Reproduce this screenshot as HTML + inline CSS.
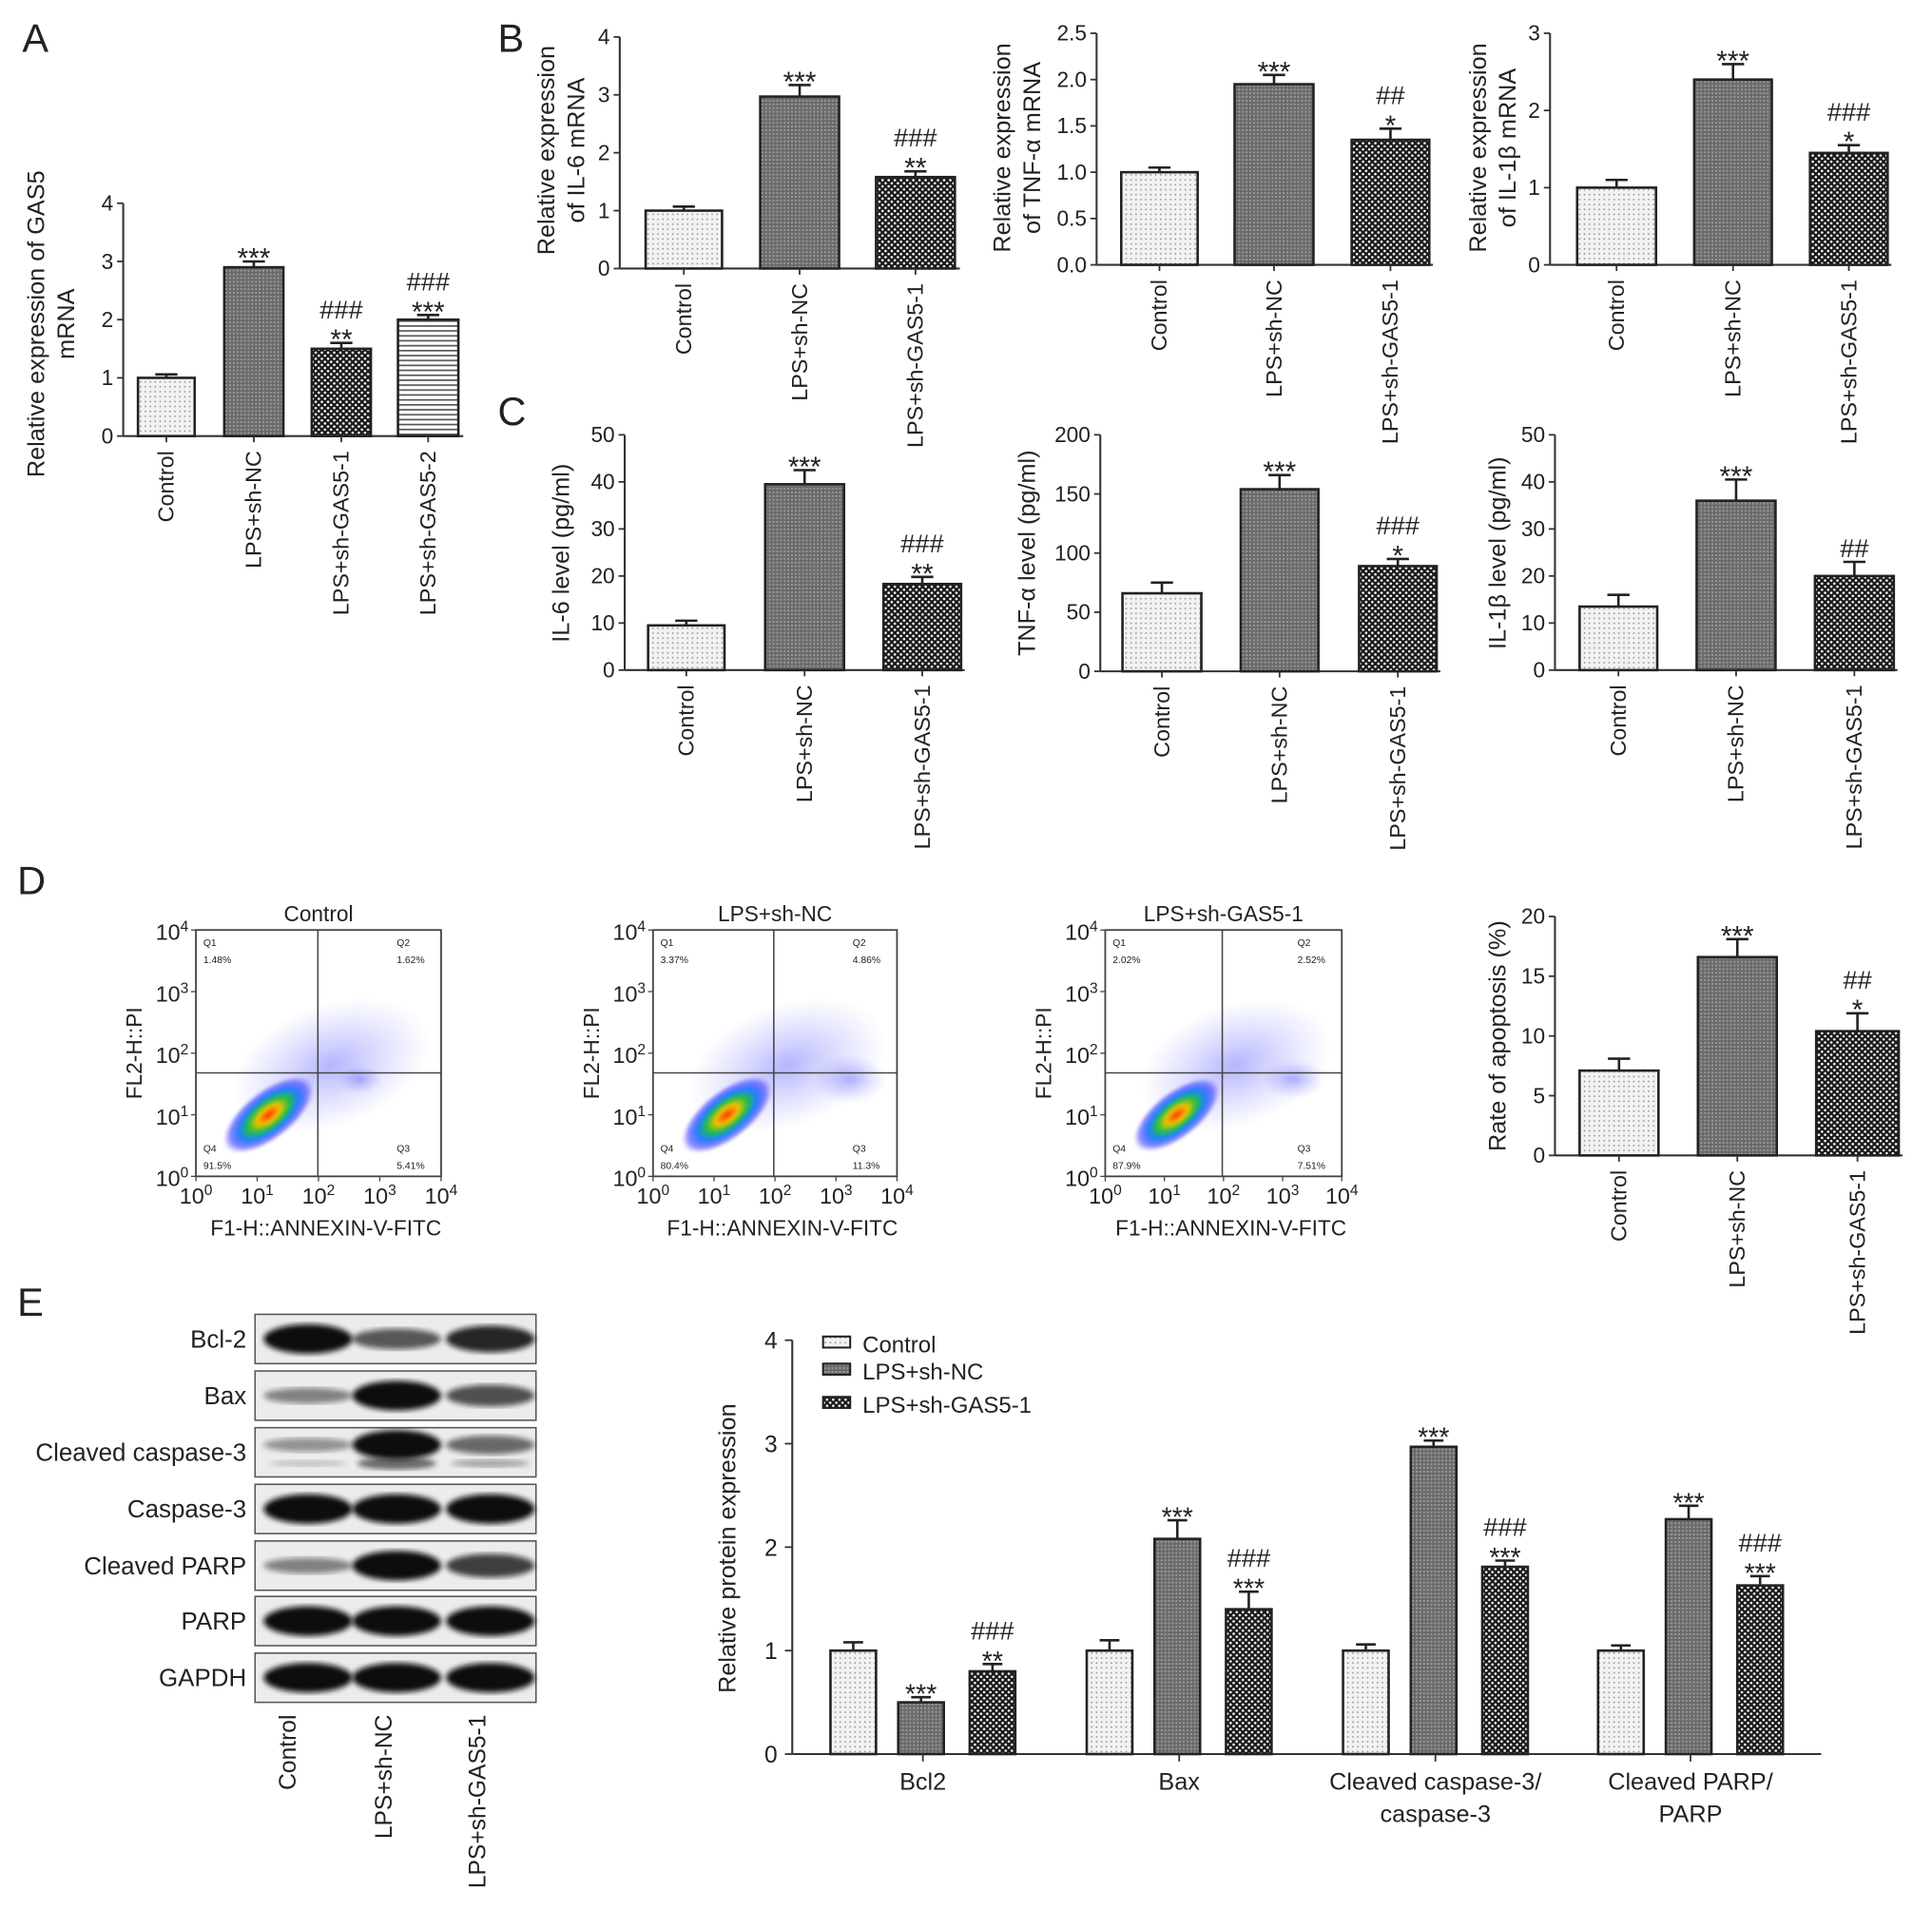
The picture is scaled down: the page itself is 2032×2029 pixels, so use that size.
<!DOCTYPE html>
<html><head><meta charset="utf-8">
<style>
html,body{margin:0;padding:0;background:#fff;}
svg{display:block;}
text{font-family:"Liberation Sans",sans-serif;fill:#222;}
</style></head>
<body>
<svg id="fig" xmlns="http://www.w3.org/2000/svg" width="2032" height="2029" viewBox="0 0 1568 1566" preserveAspectRatio="none">
<defs>
<pattern id="pDots" width="4" height="4" patternUnits="userSpaceOnUse"><rect width="4" height="4" fill="#f2f2f2"/><circle cx="2" cy="2" r="0.7" fill="#999"/></pattern>
<pattern id="pNC" width="3" height="3" patternUnits="userSpaceOnUse"><rect width="3" height="3" fill="#6a6a6a"/><rect x="0" y="0" width="1.5" height="1.5" fill="#9a9a9a"/></pattern>
<pattern id="pChk" width="5" height="5" patternUnits="userSpaceOnUse"><rect width="5" height="5" fill="#1a1a1a"/><circle cx="1.25" cy="1.25" r="1" fill="#fff"/><circle cx="3.75" cy="3.75" r="1" fill="#fff"/></pattern>
<pattern id="pH" width="4" height="4" patternUnits="userSpaceOnUse"><rect width="4" height="4" fill="#fff"/><rect y="0" width="4" height="1.3" fill="#555"/></pattern>
<radialGradient id="gFlow" cx="50%" cy="50%" r="50%">
<stop offset="0" stop-color="#ff3000"/><stop offset="0.25" stop-color="#f0c000"/><stop offset="0.45" stop-color="#20c040"/><stop offset="0.65" stop-color="#2080ff"/><stop offset="0.85" stop-color="#4040ff" stop-opacity="0.6"/><stop offset="1" stop-color="#6060ff" stop-opacity="0"/></radialGradient>
<radialGradient id="gHalo" cx="50%" cy="50%" r="50%"><stop offset="0" stop-color="#5a5aff" stop-opacity="0.45"/><stop offset="1" stop-color="#8080ff" stop-opacity="0"/></radialGradient>
<filter id="blur2"><feGaussianBlur stdDeviation="2.2"/></filter>
<filter id="blur1"><feGaussianBlur stdDeviation="1"/></filter>
</defs>
<g id="root"></g>
</svg>
<script>
// ---------- DATA ----------
const groups3 = ["Control","LPS+sh-NC","LPS+sh-GAS5-1"];
const groupsA = ["Control","LPS+sh-NC","LPS+sh-GAS5-1","LPS+sh-GAS5-2"];
const aVals = [1.0, 2.9, 1.5, 2.0];
const aErrs = [0.06, 0.1, 0.1, 0.08];
const aStars = ["","***","**","***"];
const aHash = ["","","###","###"];
const aTicks = [0,1,2,3,4];

const il6mVals = [1.0, 2.97, 1.58];
const il6mErrs = [0.07, 0.2, 0.1];
const il6mStars = ["","***","**"];
const il6mHash = ["","","###"];
const il6mTicks = [0,1,2,3,4];

const tnfmVals = [1.0, 1.95, 1.35];
const tnfmErrs = [0.05, 0.1, 0.12];
const tnfmStars = ["","***","*"];
const tnfmHash = ["","","##"];
const tnfmTicks = [0,0.5,1.0,1.5,2.0,2.5];
const tnfmTickLabels = ["0.0","0.5","1.0","1.5","2.0","2.5"];

const il1mVals = [1.0, 2.4, 1.45];
const il1mErrs = [0.1, 0.2, 0.1];
const il1mStars = ["","***","*"];
const il1mHash = ["","","###"];
const il1mTicks = [0,1,2,3];

const il6pVals = [9.5, 39.5, 18.3];
const il6pErrs = [1.0, 3.0, 1.5];
const il6pStars = ["","***","**"];
const il6pHash = ["","","###"];
const il6pTicks = [0,10,20,30,40,50];

const tnfpVals = [66, 154, 89];
const tnfpErrs = [9, 12, 6];
const tnfpStars = ["","***","*"];
const tnfpHash = ["","","###"];
const tnfpTicks = [0,50,100,150,200];

const il1pVals = [13.5, 36, 20];
const il1pErrs = [2.5, 4.5, 3];
const il1pStars = ["","***",""];
const il1pHash = ["","","##"];
const il1pTicks = [0,10,20,30,40,50];

const apoVals = [7.1, 16.6, 10.4];
const apoErrs = [1.0, 1.5, 1.5];
const apoStars = ["","***","*"];
const apoHash = ["","","##"];
const apoTicks = [0,5,10,15,20];

const eCats = ["Bcl2","Bax","Cleaved caspase-3/|caspase-3","Cleaved PARP/|PARP"];
const eCtrl = [1.0, 1.0, 1.0, 1.0];
const eNC = [0.5, 2.08, 2.97, 2.27];
const eGAS = [0.8, 1.4, 1.81, 1.63];
const eCtrlErr = [0.08, 0.1, 0.06, 0.05];
const eNCErr = [0.05, 0.18, 0.06, 0.13];
const eGASErr = [0.07, 0.17, 0.06, 0.09];
const eNCStars = ["***","***","***","***"];
const eGASStars = ["**","***","***","***"];
const eGASHash = ["###","###","###","###"];
const eTicks = [0,1,2,3,4];

const flowTitles = ["Control","LPS+sh-NC","LPS+sh-GAS5-1"];
const flowQ1 = ["1.48%","3.37%","2.02%"];
const flowQ2 = ["1.62%","4.86%","2.52%"];
const flowQ3 = ["5.41%","11.3%","7.51%"];
const flowQ4 = ["91.5%","80.4%","87.9%"];

const blotRows = ["Bcl-2","Bax","Cleaved caspase-3","Caspase-3","Cleaved PARP","PARP","GAPDH"];
const blotIntensity = [[1.0,0.55,0.85],[0.3,1.0,0.6],[0.2,1.0,0.45],[1.0,1.0,1.0],[0.3,1.0,0.7],[1.0,1.0,1.0],[1.0,1.0,1.0]];

// ---------- HELPERS ----------
const NS = "http://www.w3.org/2000/svg";
const root = document.getElementById("root");
function mk(tag, attrs, parent){
  const e = document.createElementNS(NS, tag);
  for (const k in attrs) e.setAttribute(k, attrs[k]);
  (parent||root).appendChild(e);
  return e;
}
function txt(str, x, y, size, anchor, parent, extra){
  const t = mk("text", Object.assign({x:x, y:y, "font-size":size, "text-anchor":anchor||"middle"}, extra||{}), parent);
  t.textContent = str;
  return t;
}
function fills(i){ return ["url(#pDots)","url(#pNC)","url(#pChk)","url(#pH)"][i]; }

function barChart(name, cfg, cats, vals, errs, stars, hashes, ticks, tickLabels){
  const g = mk("g", {});
  
  
  const yS = v => cfg.y0 - (v - ticks[0]) / (ticks[ticks.length-1] - ticks[0]) * (cfg.y0 - cfg.yTop);
  const ya = mk("line", {x1:cfg.ax, y1:cfg.yTop, x2:cfg.ax, y2:cfg.y0, stroke:"#333", "stroke-width":1.6}, g);
  
  
  ticks.forEach((t,i)=>{
    const y = yS(t);
    mk("line", {x1:cfg.ax-5, y1:y, x2:cfg.ax, y2:y, stroke:"#333", "stroke-width":1.4}, g);
    const tl = txt(tickLabels ? tickLabels[i] : String(t), cfg.ax-8, y+6, 17.5, "end", g);
    
    
  });
  const xa = mk("line", {x1:cfg.ax, y1:cfg.y0, x2:cfg.xEnd, y2:cfg.y0, stroke:"#333", "stroke-width":1.6}, g);
  
  
  const tt = mk("text", {transform:"translate("+cfg.titleX+","+cfg.titleY+") rotate(-90)", "font-size":19.5, "text-anchor":"middle"}, g);
  
  
  cfg.title.forEach((line, i)=>{
    const ts = mk("tspan", {x:0, dy: i===0 ? (-(cfg.title.length-1)*12) : 24}, tt);
    ts.textContent = line;
  });
  vals.forEach((v,i)=>{
    const x1 = cfg.bars[i][0], x2 = cfg.bars[i][1], cx=(x1+x2)/2;
    const yt = yS(v), ye = yS(v+errs[i]);
    mk("line", {x1:cx, y1:ye, x2:cx, y2:yt, stroke:"#222", "stroke-width":2}, g);
    mk("line", {x1:cx-9, y1:ye, x2:cx+9, y2:ye, stroke:"#222", "stroke-width":2}, g);
    const b = mk("rect", {x:x1, y:yt, width:x2-x1, height:cfg.y0-yt, fill:fills(cfg.fill ? cfg.fill[i] : i), stroke:"#222", "stroke-width":2}, g);
    
    
    mk("line", {x1:cx, y1:cfg.y0, x2:cx, y2:cfg.y0+5, stroke:"#333", "stroke-width":1.4}, g);
    let sy = ye - 4;
    if (stars[i]) {
      const s = txt(stars[i], cx, sy+9, 23, "middle", g);
      
      
      sy -= 16;
    }
    if (hashes[i]) {
      const h = txt(hashes[i], cx, sy, 21, "middle", g);
      
      
    }
    const xl = txt(cats[i], 0, 0, 18, "end", g, {transform:"translate("+(cx+6)+","+(cfg.y0+12)+") rotate(-90)"});
    
    
  });
}

[["A",18,42],["B",404,42],["C",404,345],["D",14,726],["E",14,1068]].forEach(p=>{
  const t = txt(p[0], p[1], p[2], 32, "start");
  
  
});

barChart("chart-gas5-mrna", {ax:100, y0:354, yTop:165, xEnd:376, bars:[[112,158],[182,230],[253,301],[323,372]], titleX:48, titleY:263, title:["Relative expression of GAS5","mRNA"]}, groupsA, aVals, aErrs, aStars, aHash, aTicks);
barChart("chart-il6-mrna", {ax:503, y0:218, yTop:30, xEnd:779, bars:[[524,586],[617,681],[711,775]], titleX:462, titleY:122, title:["Relative expression","of IL-6 mRNA"]}, groups3, il6mVals, il6mErrs, il6mStars, il6mHash, il6mTicks);
barChart("chart-tnf-mrna", {ax:890, y0:215, yTop:27, xEnd:1163, bars:[[910,972],[1002,1066],[1097,1160]], titleX:832, titleY:120, title:["Relative expression","of TNF-α mRNA"]}, groups3, tnfmVals, tnfmErrs, tnfmStars, tnfmHash, tnfmTicks, tnfmTickLabels);
barChart("chart-il1b-mrna", {ax:1258, y0:215, yTop:27, xEnd:1535, bars:[[1280,1344],[1375,1438],[1469,1532]], titleX:1218, titleY:120, title:["Relative expression","of IL-1β mRNA"]}, groups3, il1mVals, il1mErrs, il1mStars, il1mHash, il1mTicks);
barChart("chart-il6-level", {ax:507, y0:544, yTop:353, xEnd:783, bars:[[526,588],[621,685],[717,780]], titleX:462, titleY:449, title:["IL-6 level (pg/ml)"]}, groups3, il6pVals, il6pErrs, il6pStars, il6pHash, il6pTicks);
barChart("chart-tnf-level", {ax:893, y0:545, yTop:353, xEnd:1169, bars:[[911,975],[1007,1070],[1103,1166]], titleX:840, titleY:449, title:["TNF-α level (pg/ml)"]}, groups3, tnfpVals, tnfpErrs, tnfpStars, tnfpHash, tnfpTicks);
barChart("chart-il1b-level", {ax:1262, y0:544, yTop:353, xEnd:1540, bars:[[1282,1345],[1377,1441],[1473,1537]], titleX:1222, titleY:449, title:["IL-1β level (pg/ml)"]}, groups3, il1pVals, il1pErrs, il1pStars, il1pHash, il1pTicks);
barChart("chart-apoptosis", {ax:1262, y0:938, yTop:744, xEnd:1544, bars:[[1282,1346],[1378,1442],[1474,1541]], titleX:1222, titleY:841, title:["Rate of apoptosis (%)"]}, groups3, apoVals, apoErrs, apoStars, apoHash, apoTicks);

// ---------- FLOW PLOTS ----------
const flowBoxes = [[159,358,258],[530,728,628],[897,1089,992]];
const flowShapes = [
  [{cx:218,cy:905,rx:44,ry:20,rot:-38},{cx:292,cy:876,rx:18,ry:12,rot:0}],
  [{cx:590,cy:905,rx:44,ry:20,rot:-38},{cx:690,cy:876,rx:30,ry:20,rot:0}],
  [{cx:955,cy:905,rx:42,ry:19,rot:-38},{cx:1050,cy:876,rx:26,ry:16,rot:0}]
];
flowTitles.forEach((title,i)=>{
  const [x1,x2,qx] = flowBoxes[i];
  const g = mk("g", {});
  
  
  const y1=755, y2=955, qy=871, w=x2-x1;
  mk("rect", {x:x1, y:y1, width:w, height:y2-y1, fill:"#fff", stroke:"#444", "stroke-width":1.4}, g);
  const hx = x1 + w*0.55;
  mk("ellipse", {cx:hx, cy:865, rx:w*0.42, ry:50, fill:"url(#gHalo)", transform:"rotate(-20,"+hx+",865)"}, g);
  flowShapes[i].forEach((s,k)=>{
    const e = mk("ellipse", {cx:s.cx, cy:s.cy, rx:s.rx, ry:s.ry, fill: k===0 ? "url(#gFlow)" : "url(#gHalo)", transform:"rotate("+s.rot+","+s.cx+","+s.cy+")", filter:"url(#blur1)"}, g);
    
    
  });
  mk("line", {x1:qx, y1:y1, x2:qx, y2:y2, stroke:"#444", "stroke-width":1.2}, g);
  mk("line", {x1:x1, y1:qy, x2:x2, y2:qy, stroke:"#444", "stroke-width":1.2}, g);
  txt("Q1", x1+6, y1+13, 8, "start", g); txt(flowQ1[i], x1+6, y1+27, 8, "start", g);
  txt("Q2", x2-36, y1+13, 8, "start", g); txt(flowQ2[i], x2-36, y1+27, 8, "start", g);
  txt("Q4", x1+6, y2-20, 8, "start", g); txt(flowQ4[i], x1+6, y2-6, 8, "start", g);
  txt("Q3", x2-36, y2-20, 8, "start", g); txt(flowQ3[i], x2-36, y2-6, 8, "start", g);
  const tt = txt(title, (x1+x2)/2, y1-7, 17.5, "middle", g);
  
  
  for (let d=0; d<=4; d++){
    const xx = x1 + d*w/4, yy = y2 - d*(y2-y1)/4;
    const xt = mk("text", {x:xx, y:y2+22, "font-size":18, "text-anchor":"middle"}, g);
    xt.innerHTML = '10<tspan dy="-7" font-size="12">'+d+'</tspan>';
    const yt = mk("text", {x:x1-6, y:yy+8, "font-size":18, "text-anchor":"end"}, g);
    yt.innerHTML = '10<tspan dy="-7" font-size="12">'+d+'</tspan>';
    mk("line", {x1:xx, y1:y2, x2:xx, y2:y2+4, stroke:"#444"}, g);
    mk("line", {x1:x1-4, y1:yy, x2:x1, y2:yy, stroke:"#444"}, g);
  }
  const xl = txt("F1-H::ANNEXIN-V-FITC", (x1+x2)/2+6, 1003, 17.5, "middle", g);
  
  
  const yl = txt("FL2-H::PI", 0, 0, 17.5, "middle", g, {transform:"translate("+(x1-44)+",855) rotate(-90)"});
  
  
});

// ---------- WESTERN BLOT ----------
const blotTops = [1067,1113,1159,1205,1251,1296,1342];
const laneX = [250, 322, 398];
blotRows.forEach((r,i)=>{
  const g = mk("g", {});
  
  
  const y = blotTops[i];
  mk("rect", {x:207, y:y, width:228, height:40, fill:"#ececec", stroke:"#555", "stroke-width":1.2}, g);
  blotIntensity[i].forEach((v,j)=>{
    const cy = (i===2) ? y+14 : y+20;
    const b = mk("ellipse", {cx:laneX[j], cy:cy, rx:36, ry:4+8*v, fill:"#111", opacity:0.25+0.75*v, filter:"url(#blur2)"}, g);
    
    
    if (i===2) {
      const b2 = mk("ellipse", {cx:laneX[j], cy:y+29, rx:32, ry:2+3*v, fill:"#222", opacity:0.1+0.55*v, filter:"url(#blur2)"}, g);
      
      
    }
  });
  const l = txt(r, 200, y+27, 20, "end", g);
  
  
});
groups3.forEach((gname,j)=>{
  const t = txt(gname, 0, 0, 19, "end", null, {transform:"translate("+(laneX[j]-4+ (j===0?-6:0))+",1392) rotate(-90)"});
  
  
});

// ---------- PANEL E BAR CHART ----------
(function(){
  const g = mk("g", {});
  
  
  const ax=643, y0=1424, yTop=1088, xEnd=1478;
  const yS = v => y0 - v/4*(y0-yTop);
  mk("line", {x1:ax, y1:yTop, x2:ax, y2:y0, stroke:"#333", "stroke-width":1.6}, g);
  mk("line", {x1:ax, y1:y0, x2:xEnd, y2:y0, stroke:"#333", "stroke-width":1.6}, g);
  eTicks.forEach(t=>{
    mk("line", {x1:ax-6, y1:yS(t), x2:ax, y2:yS(t), stroke:"#333", "stroke-width":1.4}, g);
    const tl = txt(String(t), ax-12, yS(t)+7, 19, "end", g);
    
    
  });
  const yt = txt("Relative protein expression", 0, 0, 19.5, "middle", g, {transform:"translate(597,1257) rotate(-90)"});
  
  
  const groupStart = [674, 882, 1090, 1297];
  const offs = [0, 55, 113], bw = 37;
  const series = [eCtrl, eNC, eGAS], serr = [eCtrlErr, eNCErr, eGASErr];
  eCats.forEach((c,ci)=>{
    series.forEach((s,si)=>{
      const x1 = groupStart[ci] + offs[si], cx = x1 + bw/2;
      const v = s[ci], yt2 = yS(v), ye = yS(v + serr[si][ci]);
      mk("line", {x1:cx, y1:ye, x2:cx, y2:yt2, stroke:"#222", "stroke-width":2}, g);
      mk("line", {x1:cx-8, y1:ye, x2:cx+8, y2:ye, stroke:"#222", "stroke-width":2}, g);
      const b = mk("rect", {x:x1, y:yt2, width:bw, height:y0-yt2, fill:fills(si), stroke:"#222", "stroke-width":2}, g);
      
      
      let sy = ye - 4;
      const st = si===1 ? eNCStars[ci] : si===2 ? eGASStars[ci] : "";
      if (st){ const s2 = txt(st, cx, sy+9, 22, "middle", g);
        
        
        sy -= 16; }
      if (si===2 && eGASHash[ci]){ const h = txt(eGASHash[ci], cx, sy, 21, "middle", g);
        
         }
    });
    const gc = groupStart[ci] + (offs[2]+bw)/2;
    mk("line", {x1:gc, y1:y0, x2:gc, y2:y0+6, stroke:"#333", "stroke-width":1.4}, g);
    c.split("|").forEach((line,li)=>{
      const xl = txt(line, gc, y0+29+li*26, 19.5, "middle", g);
      
      
    });
  });
  groups3.forEach((n,i)=>{
    const ly = [1092,1114,1141][i];
    const sw = mk("rect", {x:668, y:ly-7, width:22, height:9, fill:fills(i), stroke:"#222", "stroke-width":1.6}, g);
    
    
    const lt = txt(n, 700, ly+6, 18.5, "start", g);
    
    
  });
})();
</script>
</body></html>
